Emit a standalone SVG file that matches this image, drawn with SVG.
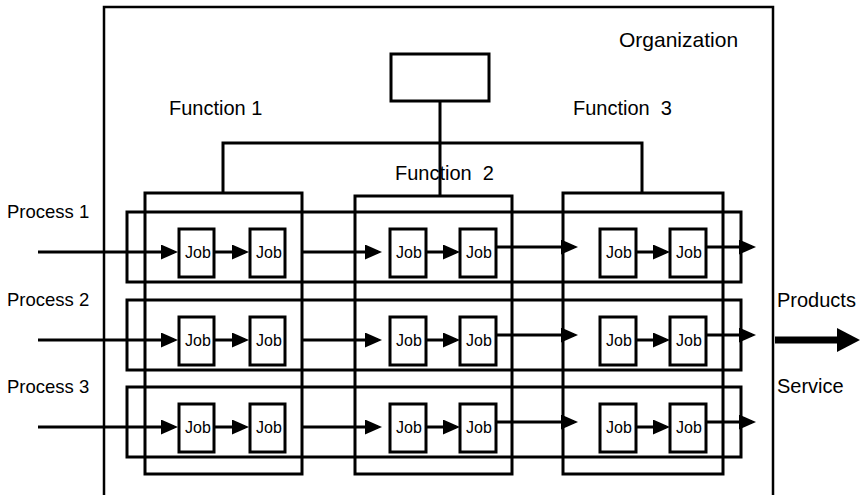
<svg xmlns="http://www.w3.org/2000/svg" xmlns:xlink="http://www.w3.org/1999/xlink" width="865" height="495" viewBox="0 0 865 495">
  <style>
    .box { fill: none; stroke: #000; stroke-width: 3; }
    .org { fill: none; stroke: #000; stroke-width: 2.5; }
    .job { fill: #fff; stroke: #000; stroke-width: 3; }
    .ln { stroke: #000; stroke-width: 3; fill: none; }
    .lbl { font-family: "Liberation Sans", Arial, sans-serif; fill: #000; }
    .big { font-size: 20px; }
    .proc { font-size: 18.5px; }
    .jt { font-size: 16px; text-anchor: middle; }
  </style>
  <defs>
    <marker id="head" viewBox="0 0 17 15" refX="13" refY="7.5" markerWidth="17" markerHeight="15" markerUnits="userSpaceOnUse" orient="auto">
      <path d="M0,0 L17,7.5 L0,15 Z" fill="#000"/>
    </marker>
    <!-- one process row: wide process box, six jobs and the flow arrows -->
    <g id="row">
      <rect class="box" x="127" y="212" width="614" height="70"/>
      <line class="ln" x1="38" y1="252" x2="174" y2="252" marker-end="url(#head)"/>
      <line class="ln" x1="214" y1="252" x2="245" y2="252" marker-end="url(#head)"/>
      <line class="ln" x1="302" y1="252" x2="378" y2="252" marker-end="url(#head)"/>
      <line class="ln" x1="426" y1="252" x2="456" y2="252" marker-end="url(#head)"/>
      <line class="ln" x1="496" y1="247" x2="574" y2="247" marker-end="url(#head)"/>
      <line class="ln" x1="636" y1="252" x2="666" y2="252" marker-end="url(#head)"/>
      <line class="ln" x1="706" y1="247" x2="752" y2="247" marker-end="url(#head)"/>
      <rect class="job" x="179" y="229" width="35" height="48"/>
      <rect class="job" x="250" y="229" width="35" height="48"/>
      <rect class="job" x="390" y="229" width="36" height="48"/>
      <rect class="job" x="460" y="229" width="36" height="48"/>
      <rect class="job" x="600" y="229" width="36" height="48"/>
      <rect class="job" x="670" y="229" width="36" height="48"/>
      <text class="lbl jt" x="198" y="258">Job</text>
      <text class="lbl jt" x="269" y="258">Job</text>
      <text class="lbl jt" x="409" y="258">Job</text>
      <text class="lbl jt" x="479" y="258">Job</text>
      <text class="lbl jt" x="619" y="258">Job</text>
      <text class="lbl jt" x="689" y="258">Job</text>
    </g>
  </defs>

  <g id="organization">
    <rect class="org" x="104" y="7" width="669" height="520"/>
    <text class="lbl" x="619" y="47" font-size="21">Organization</text>
  </g>

  <g id="head-office">
    <rect class="box" x="391" y="54" width="98" height="47"/>
  </g>

  <g id="connectors">
    <line class="ln" x1="440" y1="101" x2="440" y2="196"/>
    <polyline class="ln" points="223,193 223,143 642,143 642,193"/>
  </g>

  <g id="function-1">
    <rect class="box" x="145" y="193" width="157" height="281"/>
    <text class="lbl big" x="169" y="115">Function 1</text>
  </g>
  <g id="function-2">
    <rect class="box" x="355" y="196" width="157" height="278"/>
    <text class="lbl big" x="395" y="180" xml:space="preserve">Function  2</text>
  </g>
  <g id="function-3">
    <rect class="box" x="563" y="193" width="160" height="281"/>
    <text class="lbl big" x="573" y="115" xml:space="preserve">Function  3</text>
  </g>

  <g id="process-1">
    <use xlink:href="#row"/>
    <text class="lbl proc" x="7" y="218">Process 1</text>
  </g>
  <g id="process-2">
    <use xlink:href="#row" transform="translate(0,88)"/>
    <text class="lbl proc" x="7" y="306">Process 2</text>
  </g>
  <g id="process-3">
    <use xlink:href="#row" transform="translate(0,175)"/>
    <text class="lbl proc" x="7" y="393">Process 3</text>
  </g>

  <g id="output">
    <text class="lbl big" x="777" y="307">Products</text>
    <line x1="775" y1="340" x2="840" y2="340" stroke="#000" stroke-width="7"/>
    <polygon points="837,328 860,340 837,352" fill="#000"/>
    <text class="lbl big" x="777" y="393">Service</text>
  </g>
</svg>
